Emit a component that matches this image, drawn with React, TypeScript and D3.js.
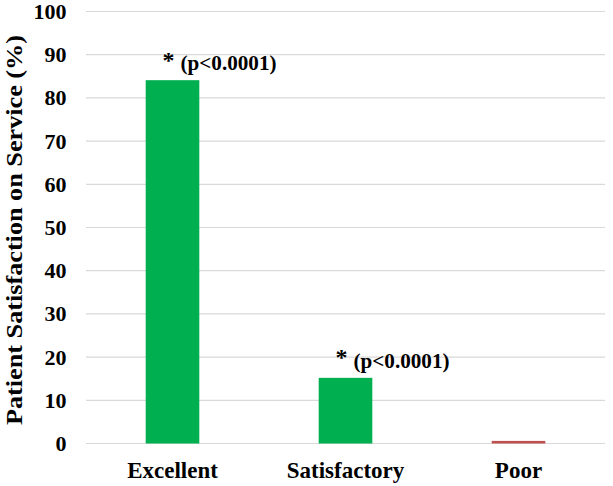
import * as d3 from "d3";
import React from "react";

const categories = ["Excellent", "Satisfactory", "Poor"];
const satisfaction = [84.1, 15.2, 0.6];
const barColors = ["#00B050", "#00B050", "#C0504D"];
const annotations = ["(p<0.0001)", "(p<0.0001)", ""];
const yTicks = [0, 10, 20, 30, 40, 50, 60, 70, 80, 90, 100];

const width = 613;
const height = 486;
const margin = { top: 11.5, right: 8, bottom: 42.5, left: 86 };
const font = '"Liberation Serif", "Times New Roman", Times, serif';

const App: React.FC = () => {
  const x = d3
    .scaleBand<string>()
    .domain(categories)
    .range([margin.left, width - margin.right])
    .paddingInner(0.69)
    .paddingOuter(0.345);

  const y = d3
    .scaleLinear()
    .domain([0, 100])
    .range([height - margin.bottom, margin.top]);

  return (
    <svg
      width={width}
      height={height}
      style={{
        position: "absolute",
        left: 0,
        top: 0,
        background: "#fff",
        fontFamily: font,
        fontWeight: "bold",
      }}
    >
      {/* gridlines */}
      {yTicks.map((t) => (
        <line
          key={t}
          x1={margin.left}
          x2={width - margin.right}
          y1={y(t)}
          y2={y(t)}
          stroke="#D9D9D9"
          strokeWidth={1.2}
        />
      ))}
      {/* y tick labels */}
      {yTicks.map((t) => (
        <text key={t} x={66.5} y={y(t) + 7.5} textAnchor="end" fontSize={22} fill="#000">
          {t}
        </text>
      ))}
      {/* bars */}
      {categories.map((c, i) => (
        <rect
          key={c}
          x={x(c)}
          y={y(satisfaction[i])}
          width={x.bandwidth()}
          height={y(0) - y(satisfaction[i])}
          fill={barColors[i]}
        />
      ))}
      {/* significance labels */}
      {categories.map((c, i) => {
        if (!annotations[i]) return null;
        const cx = (x(c) ?? 0) + x.bandwidth() / 2;
        const top = y(satisfaction[i]);
        return (
          <g key={c}>
            <text x={cx - 10} y={top - 12.5} fontSize={24} fill="#000">
              *
            </text>
            <text
              x={cx + 8}
              y={top - 10}
              fontSize={21}
              fill="#000"
              textLength={96}
              lengthAdjust="spacingAndGlyphs"
            >
              {annotations[i]}
            </text>
          </g>
        );
      })}
      {/* x labels */}
      {categories.map((c) => (
        <text
          key={c}
          x={(x(c) ?? 0) + x.bandwidth() / 2}
          y={478}
          textAnchor="middle"
          fontSize={23}
          fill="#000"
        >
          {c}
        </text>
      ))}
      {/* y axis title */}
      <text
        transform="translate(21.5,230) rotate(-90)"
        textAnchor="middle"
        fontSize={24}
        fill="#000"
        textLength={390}
        lengthAdjust="spacingAndGlyphs"
      >
        Patient Satisfaction on Service (%)
      </text>
    </svg>
  );
};

export default App;
